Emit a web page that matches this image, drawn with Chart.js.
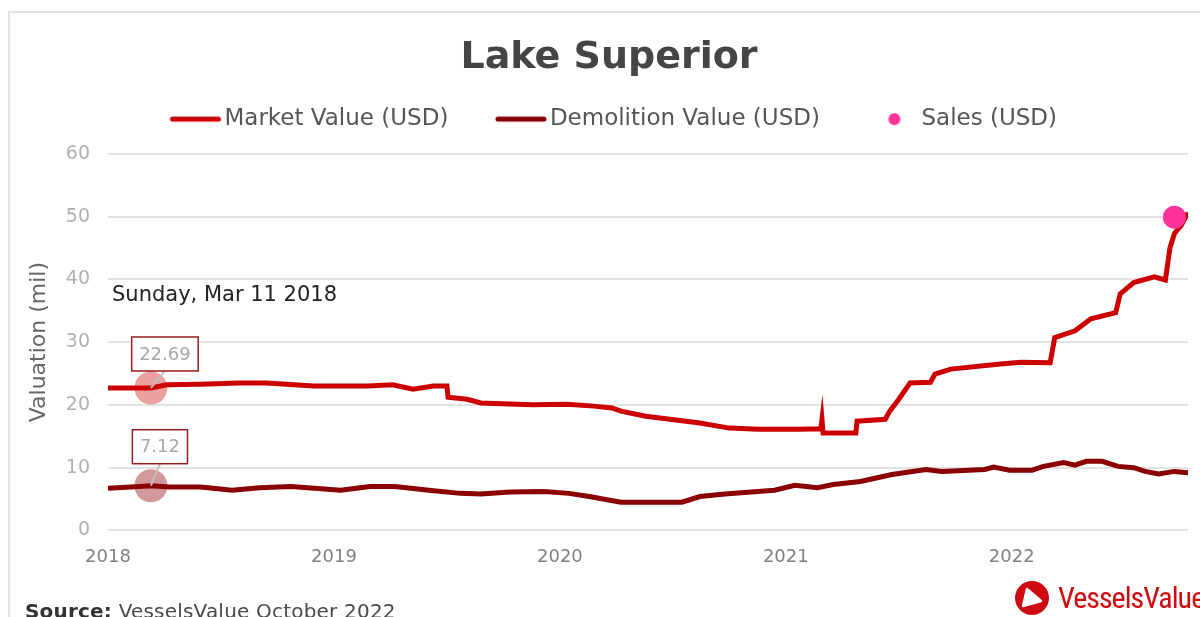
<!DOCTYPE html>
<html>
<head>
<meta charset="utf-8">
<title>Lake Superior</title>
<script src="https://cdn.jsdelivr.net/npm/chart.js@4.4.0/dist/chart.umd.min.js"></script>
<style>
    html, body { margin: 0; padding: 0; background: #fff; }
    #wrap { position: relative; width: 1200px; height: 617px; overflow: hidden; }
    #card { position: absolute; left: 8px; top: 11px; right: -10px; bottom: -10px;
            border-left: 2px solid #e3e3e3; border-top: 2px solid #e3e3e3; }
    #chart { position: absolute; left: 0; top: 0; }
    #source { position: absolute; left: 25px; top: 599px; font-family: "DejaVu Sans", sans-serif;
              font-size: 20px; color: #4a4a4a; line-height: 24px; white-space: nowrap; letter-spacing: 0.2px; }
    #source b { font-weight: 700; color: #333; }
    #logo { position: absolute; left: 1014px; top: 580px; height: 36px; white-space: nowrap; }
    #logo svg { position: absolute; left: 0; top: 0; }
    #logo span { position: absolute; left: 44px; top: 0px; font-family: "Liberation Sans Narrow", "Roboto Condensed", Roboto, sans-serif;
                 font-size: 30px; color: #cf0a10; letter-spacing: -1px; line-height: 36px; }
</style>
</head>
<body>
<div id="wrap">
    <div id="card"></div>
    <canvas id="chart" width="1200" height="617"></canvas>
    <div id="source"><b>Source:</b> VesselsValue October 2022</div>
    <div id="logo">
        <svg width="36" height="36" viewBox="0 0 36 36">
            <circle cx="18" cy="18" r="17" fill="#cf0a10"></circle>
            <path d="M13 9 L27 21 L9 26 Z" fill="#fff" stroke="#fff" stroke-width="2.5" stroke-linejoin="round"></path>
        </svg>
        <span>VesselsValue</span>
    </div>
</div>
<script>
// values, x is the date as a decimal year
var marketYears = [2018.00, 2018.19, 2018.26, 2018.41, 2018.58, 2018.70, 2018.79, 2018.91, 2019.15, 2019.26,
    2019.35, 2019.44, 2019.50, 2019.505, 2019.59, 2019.65, 2019.81, 2019.88, 2020.03, 2020.15,
    2020.23, 2020.27, 2020.38, 2020.62, 2020.75, 2020.88, 2021.06, 2021.155, 2021.16, 2021.165,
    2021.31, 2021.315, 2021.44, 2021.46, 2021.50, 2021.55, 2021.64, 2021.66, 2021.73, 2021.95,
    2022.04, 2022.17, 2022.19, 2022.28, 2022.35, 2022.46, 2022.48, 2022.54, 2022.63, 2022.68,
    2022.70, 2022.72, 2022.75, 2022.78];
var marketValues = [22.7, 22.69, 23.2, 23.3, 23.5, 23.5, 23.3, 23.0, 23.0, 23.2,
    22.5, 23.0, 23.0, 21.2, 20.9, 20.3, 20.1, 20.0, 20.1, 19.8,
    19.5, 19.0, 18.2, 17.1, 16.3, 16.1, 16.1, 16.2, 17.7, 15.5,
    15.5, 17.4, 17.7, 19.0, 20.9, 23.5, 23.6, 24.9, 25.7, 26.5,
    26.8, 26.7, 30.7, 31.8, 33.7, 34.7, 37.7, 39.5, 40.4, 39.9,
    45.0, 47.3, 48.6, 50.6];

var demolitionYears = [2018.00, 2018.14, 2018.19, 2018.27, 2018.41, 2018.55, 2018.67, 2018.81, 2019.03, 2019.16,
    2019.27, 2019.42, 2019.56, 2019.65, 2019.78, 2019.93, 2020.04, 2020.13, 2020.27, 2020.35,
    2020.54, 2020.62, 2020.73, 2020.95, 2021.04, 2021.14, 2021.21, 2021.33, 2021.47, 2021.62,
    2021.69, 2021.88, 2021.92, 2021.99, 2022.09, 2022.14, 2022.23, 2022.28, 2022.33, 2022.40,
    2022.47, 2022.54, 2022.59, 2022.65, 2022.72, 2022.78];
var demolitionValues = [6.7, 7.0, 7.12, 6.9, 6.9, 6.4, 6.8, 7.0, 6.4, 7.0,
    7.0, 6.4, 5.9, 5.8, 6.1, 6.2, 5.9, 5.4, 4.5, 4.5,
    4.5, 5.4, 5.8, 6.4, 7.2, 6.8, 7.3, 7.8, 8.9, 9.7,
    9.4, 9.7, 10.1, 9.6, 9.6, 10.2, 10.8, 10.4, 11.0, 11.0,
    10.2, 10.0, 9.4, 9.0, 9.4, 9.2];

var salesYears = [2022.72];
var salesValues = [49.9];

var yearTicks = [2018, 2019, 2020, 2021, 2022];
var valueTicks = [0, 10, 20, 30, 40, 50, 60];

// the hovered date shown in the picture
var hoverYear = 2018.19;
var hoverLabel = "Sunday, Mar 11 2018";

var FONT = '"DejaVu Sans", sans-serif';
var MARKET_COLOR = "#cc0000";
var DEMO_COLOR = "#8b0000";
var SALES_COLOR = "#ff3399";

var LEGEND_SIZE = 23;
var LEGEND_BOX = 66;
// marker canvas is centred in the legend box, its right edge sits 2px before the text
var MARKER_W = LEGEND_BOX + LEGEND_SIZE - 4;

function toPoints(xs, ys) {
    return xs.map(function (x, i) { return { x: x, y: ys[i] }; });
}

function lineMarker(color) {
    var c = document.createElement("canvas");
    c.width = MARKER_W; c.height = 8;
    var g = c.getContext("2d");
    g.strokeStyle = color;
    g.lineWidth = 5;
    g.lineCap = "round";
    g.beginPath();
    g.moveTo(MARKER_W - 50, 4);
    g.lineTo(MARKER_W - 4, 4);
    g.stroke();
    return c;
}
function dotMarker(color) {
    var c = document.createElement("canvas");
    c.width = MARKER_W; c.height = 14;
    var g = c.getContext("2d");
    g.fillStyle = color;
    g.beginPath();
    g.arc(MARKER_W - 25, 7, 6, 0, Math.PI * 2);
    g.fill();
    return c;
}

// nudge title/legend to line up with the original centring
var nudgePlugin = {
    id: "nudge",
    afterLayout: function (chart) {
        chart.titleBlock.left += 5;
        chart.titleBlock.right += 5;
        chart.legend.left -= 2;
        chart.legend.right -= 2;
    }
};

var hoverPlugin = {
    id: "hoverPlugin",
    afterDatasetsDraw: function (chart) {
        var ctx = chart.ctx;
        var xs = chart.scales.x, ys = chart.scales.y;
        var area = chart.chartArea;
        var marks = [
            { value: marketValues[marketYears.indexOf(hoverYear)], fill: "rgba(204,0,0,0.37)", lift: 17, dx: 14 },
            { value: demolitionValues[demolitionYears.indexOf(hoverYear)], fill: "rgba(139,0,0,0.4)", lift: 22, dx: 9 }
        ];
        var px = xs.getPixelForValue(hoverYear);
        ctx.save();
        marks.forEach(function (m) {
            var py = ys.getPixelForValue(m.value);
            ctx.fillStyle = m.fill;
            ctx.beginPath();
            ctx.arc(px, py, 16.5, 0, Math.PI * 2);
            ctx.fill();

            ctx.font = "18px " + FONT;
            var text = m.value.toFixed(2);
            var tw = ctx.measureText(text).width;
            var bw = tw + 15, bh = 34;
            var bx = px + m.dx - bw / 2, by = py - m.lift - bh;

            ctx.strokeStyle = "#c0c0c0";
            ctx.lineWidth = 2;
            ctx.beginPath();
            ctx.moveTo(px, py);
            ctx.lineTo(px + m.dx, py - m.lift);
            ctx.stroke();

            ctx.fillStyle = "#fff";
            ctx.fillRect(bx, by, bw, bh);
            ctx.strokeStyle = "#9b1a1a";
            ctx.lineWidth = 1.5;
            ctx.strokeRect(bx, by, bw, bh);
            ctx.fillStyle = "#a8a8a8";
            ctx.textAlign = "center";
            ctx.textBaseline = "middle";
            ctx.fillText(text, px + m.dx, by + bh / 2 + 1);
        });
        ctx.fillStyle = "#222";
        ctx.font = "21px " + FONT;
        ctx.textAlign = "left";
        ctx.textBaseline = "middle";
        ctx.fillText(hoverLabel, area.left + 4, area.top + 142);
        ctx.restore();
    }
};

var ctx = document.getElementById("chart").getContext("2d");
new Chart(ctx, {
    type: "line",
    data: {
        datasets: [
            {
                label: "Market Value (USD)",
                data: toPoints(marketYears, marketValues),
                borderColor: MARKET_COLOR,
                backgroundColor: MARKET_COLOR,
                borderWidth: 5,
                pointRadius: 0,
                tension: 0,
                order: 2
            },
            {
                label: "Demolition Value (USD)",
                data: toPoints(demolitionYears, demolitionValues),
                borderColor: DEMO_COLOR,
                backgroundColor: DEMO_COLOR,
                borderWidth: 5,
                pointRadius: 0,
                tension: 0,
                order: 3
            },
            {
                label: "Sales (USD)",
                data: toPoints(salesYears, salesValues),
                showLine: false,
                borderColor: SALES_COLOR,
                backgroundColor: SALES_COLOR,
                pointRadius: 11.5,
                pointBorderWidth: 0,
                order: 1
            }
        ]
    },
    options: {
        responsive: false,
        animation: false,
        devicePixelRatio: 1,
        layout: { padding: { left: 20, right: 12, top: 0, bottom: 41 } },
        plugins: {
            title: {
                display: true,
                text: "Lake Superior",
                color: "#454545",
                font: { family: FONT, size: 38, weight: "bold" },
                padding: { top: 35, bottom: 3 }
            },
            // empty block under the legend, only used as a gap before the plot
            subtitle: {
                display: true,
                text: "",
                weight: 500,
                font: { size: 1 },
                padding: { top: 12, bottom: 0 }
            },
            legend: {
                position: "top",
                labels: {
                    usePointStyle: true,
                    pointStyleWidth: LEGEND_BOX,
                    boxWidth: LEGEND_BOX,
                    boxHeight: 8,
                    padding: 24,
                    color: "#555",
                    font: { family: FONT, size: LEGEND_SIZE },
                    generateLabels: function (chart) {
                        var markers = [lineMarker(MARKET_COLOR), lineMarker(DEMO_COLOR), dotMarker(SALES_COLOR)];
                        return chart.data.datasets.map(function (ds, i) {
                            return {
                                text: ds.label,
                                pointStyle: markers[i],
                                fillStyle: ds.borderColor,
                                strokeStyle: ds.borderColor,
                                lineWidth: 0,
                                fontColor: "#555",
                                datasetIndex: i
                            };
                        });
                    }
                }
            },
            tooltip: { enabled: false }
        },
        scales: {
            x: {
                type: "linear",
                min: 2018,
                max: 2022.78,
                afterBuildTicks: function (scale) {
                    scale.ticks = yearTicks.map(function (v) { return { value: v }; });
                },
                grid: { display: false },
                border: { display: false },
                ticks: {
                    color: "#808080",
                    padding: 8,
                    maxRotation: 0,
                    font: { family: FONT, size: 18 },
                    callback: function (v) { return String(v); }
                }
            },
            y: {
                min: 0,
                max: 60,
                afterBuildTicks: function (scale) {
                    scale.ticks = valueTicks.map(function (v) { return { value: v }; });
                },
                afterFit: function (scale) { scale.width = 88; },
                grid: { color: "#e3e3e3", lineWidth: 2, drawTicks: false },
                border: { display: false },
                ticks: {
                    color: "#b0b0b0",
                    padding: 18,
                    font: { family: FONT, size: 19 }
                },
                title: {
                    display: true,
                    text: "Valuation (mil)",
                    color: "#666",
                    font: { family: FONT, size: 22 },
                    padding: { top: 6, bottom: 0 }
                }
            }
        }
    },
    plugins: [nudgePlugin, hoverPlugin]
});
</script>
</body>
</html>
